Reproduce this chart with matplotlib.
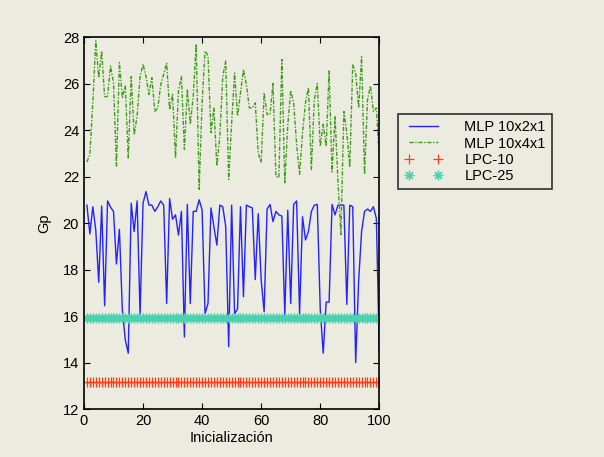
import matplotlib
matplotlib.use("Agg")
import matplotlib.pyplot as plt

# Initialisation index (1..100)
inicializacion = list(range(1, 101))

# Prediction gain per initialisation, MLP 10x2x1
mlp_10x2x1 = [
    20.77, 19.53, 20.70, 19.70, 17.45, 20.73, 16.44, 20.95, 20.68, 20.50,
    18.24, 19.73, 16.26, 14.97, 14.40, 20.85, 19.63, 20.95, 16.04, 20.85,
    21.35, 20.77, 20.77, 20.50, 20.70, 20.95, 20.77, 16.54, 21.05, 20.16,
    20.35, 19.48, 20.50, 15.10, 20.80, 16.54, 20.50, 20.50, 21.00, 20.56,
    16.10, 16.54, 20.65, 19.84, 19.05, 20.77, 20.70, 19.84, 14.68, 20.77,
    16.10, 16.30, 20.70, 16.83, 20.77, 20.70, 20.65, 17.57, 20.40, 17.55,
    16.18, 20.60, 20.80, 20.06, 20.50, 20.35, 20.30, 16.04, 20.55, 16.54,
    20.80, 20.95, 16.10, 20.27, 19.27, 19.63, 20.50, 20.77, 20.80, 16.30,
    14.40, 16.60, 16.60, 20.80, 20.35, 20.77, 20.77, 20.77, 16.50, 20.77,
    20.70, 14.00, 17.50, 19.63, 20.50, 20.60, 20.50, 20.70, 20.20, 14.50,
]

# Prediction gain per initialisation, MLP 10x4x1
mlp_10x4x1 = [
    22.62, 22.95, 25.17, 27.83, 26.25, 27.40, 25.43, 25.45, 26.75, 26.03,
    22.45, 26.90, 25.40, 25.90, 22.80, 26.30, 23.80, 24.60, 26.30, 26.83,
    26.30, 25.53, 26.25, 24.80, 24.95, 25.95, 26.40, 26.87, 24.87, 25.53,
    22.80, 25.68, 26.30, 23.17, 25.75, 24.25, 25.45, 27.70, 21.45, 25.17,
    27.40, 27.20, 23.88, 24.95, 22.45, 23.74, 26.30, 26.97, 21.88, 24.30,
    26.45, 24.60, 25.60, 26.60, 25.95, 24.95, 24.95, 25.17, 23.02, 22.60,
    25.60, 24.67, 24.67, 26.00, 22.00, 21.95, 27.04, 21.73, 24.20, 25.70,
    25.17, 23.38, 22.10, 23.88, 25.17, 25.82, 22.30, 25.30, 26.00, 23.30,
    24.25, 23.30, 26.54, 22.20, 24.60, 21.80, 19.50, 24.80, 23.88, 22.40,
    26.80, 26.45, 24.95, 27.15, 22.10, 25.30, 25.90, 24.80, 24.95, 22.80,
]

# Reference gains of the linear predictors (same for every initialisation)
LPC10_GP = 13.15
LPC25_GP = 15.90
lpc_10 = [LPC10_GP] * len(inicializacion)
lpc_25 = [LPC25_GP] * len(inicializacion)

x_ticks = [0, 20, 40, 60, 80, 100]
y_ticks = [12, 14, 16, 18, 20, 22, 24, 26, 28]

bg = "#ecebdf"
plt.rcParams["font.family"] = ["Liberation Sans", "DejaVu Sans"]

fig = plt.figure(figsize=(6.04, 4.57), dpi=100, facecolor=bg)
ax = fig.add_axes([0.139, 0.105, 0.489, 0.814], facecolor=bg)

ax.plot(inicializacion, mlp_10x2x1, color="#2323ff", lw=1.0, label="MLP 10x2x1")
ax.plot(inicializacion, mlp_10x4x1, color="#3c9c18", lw=1.0,
        linestyle=(0, (3, 1.2, 1, 1.2)), label="MLP 10x4x1")
ax.plot(inicializacion, lpc_10, color="#ff3c14", lw=0, marker="+",
        markersize=7, markeredgewidth=0.9, label="LPC-10")
# eight-spoke asterisk marker
ax.plot(inicializacion, lpc_25, color="#48d4b0", lw=0, marker=(8, 2, 0),
        markersize=7, markeredgewidth=0.9, label="LPC-25")

ax.set_xlim(0, 100)
ax.set_ylim(12, 28)
ax.set_xticks(x_ticks)
ax.set_yticks(y_ticks)
ax.tick_params(direction="in", top=True, right=True, length=4, width=0.8,
               labelsize=10.5, colors="black")
for s in ax.spines.values():
    s.set_linewidth(1.2)

ax.set_xlabel("Inicialización", fontsize=10.5, labelpad=2)
ax.set_ylabel("Gp", fontsize=10.5, labelpad=8)

leg = fig.legend(loc="upper left", bbox_to_anchor=(0.659, 0.751),
                 numpoints=2, handlelength=2.6, handletextpad=1.5,
                 fontsize=10.5, frameon=True, fancybox=False,
                 borderpad=0.45, labelspacing=0.15, borderaxespad=0)
leg.get_frame().set_facecolor(bg)
leg.get_frame().set_edgecolor("black")
leg.get_frame().set_linewidth(1.2)

fig.savefig("out.png", dpi=100, facecolor=bg)
